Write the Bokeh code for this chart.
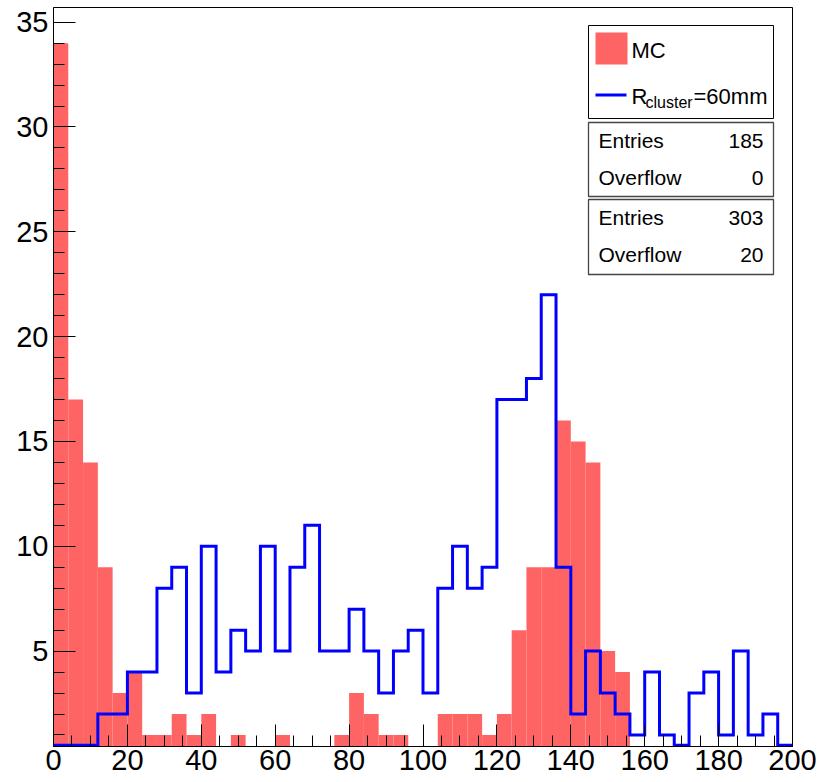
import numpy as np
from bokeh.plotting import figure
from bokeh.models import (Range1d, FixedTicker, BoxAnnotation, Label, Arrow)
from bokeh.embed import file_html
from bokeh.resources import INLINE

# ---- histogram contents (50 bins of width 4 between 0 and 200) ----
x_min, x_max, n_bins = 0.0, 200.0, 50
mc_counts = [34, 17, 14, 9, 3, 4, 1, 1, 2, 1,
             2, 0, 1, 0, 0, 1, 0, 0, 0, 1,
             3, 2, 1, 1, 0, 0, 2, 2, 2, 1,
             2, 6, 9, 9, 16, 15, 14, 5, 4, 0,
             0, 0, 0, 0, 0, 0, 0, 0, 0, 0]
r60_counts = [0, 0, 0, 2, 2, 4, 4, 8, 9, 3,
              10, 4, 6, 5, 10, 5, 9, 11, 5, 5,
              7, 5, 3, 5, 6, 3, 8, 10, 8, 9,
              17, 17, 18, 22, 9, 2, 5, 3, 2, 1,
              4, 1, 0, 3, 4, 1, 5, 1, 2, 0]

mc_stats = [("Entries", "185"), ("Overflow", "0")]
r60_stats = [("Entries", "303"), ("Overflow", "20")]

x_ticks = list(range(0, 201, 20))
x_minor = list(range(0, 201, 5))
y_ticks = list(range(5, 36, 5))
y_minor = list(range(1, 36))

y_lo, y_hi = 0.45, 35.7

MC_RED = "#ff6464"
BLUE = "#0000ff"
FONT = "Liberation Sans"

W, H = 818, 782
FL, FR, FT, FB = 53, 792, 7, 746   # frame edges in canvas pixels

p = figure(width=W, height=H, output_backend="svg", toolbar_location=None,
           x_range=Range1d(x_min, x_max), y_range=Range1d(y_lo, y_hi),
           min_border_left=FL, min_border_right=W - FR,
           min_border_top=FT, min_border_bottom=H - FB,
           background_fill_color="white", border_fill_color="white")
p.grid.visible = False
p.outline_line_color = "black"
p.outline_line_width = 1

for ax in (p.xaxis[0], p.yaxis[0]):
    ax.major_tick_in = 22
    ax.major_tick_out = 0
    ax.minor_tick_in = 11
    ax.minor_tick_out = 0
    ax.major_tick_line_color = "black"
    ax.minor_tick_line_color = "black"
    ax.axis_line_color = "black"
    ax.major_label_text_font = FONT
    ax.major_label_text_font_size = "29px"
    ax.major_label_text_color = "black"

p.xaxis[0].ticker = FixedTicker(ticks=x_ticks, minor_ticks=x_minor)
p.yaxis[0].ticker = FixedTicker(ticks=y_ticks, minor_ticks=y_minor)
p.xaxis[0].major_label_standoff = 3
p.yaxis[0].major_label_standoff = 5

edges = np.linspace(x_min, x_max, n_bins + 1)

# MC: filled bars
p.quad(left=edges[:-1], right=edges[1:], bottom=0, top=mc_counts,
       fill_color=MC_RED, line_color=None)

# R_cluster = 60 mm: outline histogram; empty bins run along the frame floor,
# lifted by about one pixel so the 3 px stroke is not clipped away
floor = y_lo + 0.06
r60 = np.maximum(np.asarray(r60_counts, dtype=float), floor)
step_x = np.repeat(edges, 2)[1:-1]
step_y = np.repeat(r60, 2)
p.line(step_x, step_y, line_color=BLUE, line_width=3, line_join="miter")


# ---- legend and statistics boxes, placed in canvas pixels ----
def dx(px):
    return x_min + (px - FL) * (x_max - x_min) / (FR - FL)


def dy(py):
    return y_lo + (FB - py) * (y_hi - y_lo) / (FB - FT)


def box(l, r, t, b, line_color, fill="white", width=1):
    p.add_layout(BoxAnnotation(left=dx(l), right=dx(r), top=dy(t), bottom=dy(b),
                               fill_color=fill, fill_alpha=1.0,
                               line_color=line_color, line_width=width,
                               line_alpha=1.0 if line_color else 0))


def text(px, py, s, size, align="left"):
    # py is the wanted baseline; Label places alphabetic text a bit low,
    # so it is raised by a fraction of the font size
    fs = float(size.rstrip("px"))
    p.add_layout(Label(x=dx(px), y=dy(py - 0.39 * fs), text=s, text_font=FONT,
                       text_font_size=size, text_color="black",
                       text_align=align, text_baseline="alphabetic"))


BL, BR = 588, 773
box(BL, BR, 25, 118, "black")
box(BL, BR, 122, 196, "#444444", width=1.3)
box(BL, BR, 199, 274, "#444444", width=1.3)

# legend entries
box(595, 627, 32, 64, None, fill=MC_RED)
text(631, 59, "MC", "22px")
p.add_layout(Arrow(x_start=dx(595), y_start=dy(94.5), x_end=dx(626), y_end=dy(94.5),
                   start=None, end=None, line_color=BLUE, line_width=3))
text(631, 104.5, "R", "22px")
text(645, 108.5, "cluster", "16px")
text(693, 104.5, "=60mm", "22px")

# statistics
for (rows, base) in ((mc_stats, 148.5), (r60_stats, 225.5)):
    for i, (name, val) in enumerate(rows):
        yb = base + i * 36.7
        text(598, yb, name, "21px")
        text(763, yb, val, "21px", align="right")

open("out.html", "w").write(file_html(p, INLINE))
